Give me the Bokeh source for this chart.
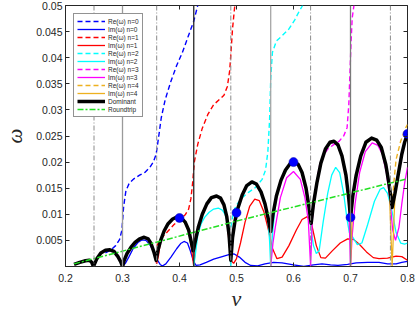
from bokeh.plotting import figure
from bokeh.models import (Range1d, FixedTicker, LinearAxis, Legend, LegendItem, Span)
from bokeh.embed import file_html
from bokeh.resources import INLINE

# ---------------- data ----------------
x_ticks = [0.2, 0.3, 0.4, 0.5, 0.6, 0.7, 0.8]
x_tick_labels = ["0.2", "0.3", "0.4", "0.5", "0.6", "0.7", "0.8"]
y_ticks = [0.005, 0.01, 0.015, 0.02, 0.025, 0.03, 0.035, 0.04, 0.045, 0.05]
y_tick_labels = ["0.005", "0.01", "0.015", "0.02", "0.025", "0.03", "0.035",
                 "0.04", "0.045", "0.05"]

# Dominant (thick black)
v_dom = [0.215, 0.225, 0.235, 0.242, 0.246, 0.249,
         0.255, 0.262, 0.270, 0.278, 0.285, 0.292, 0.297, 0.300,
         0.303, 0.308, 0.315, 0.322, 0.330, 0.338, 0.345, 0.350, 0.355, 0.359,
         0.362, 0.367, 0.373, 0.380, 0.388, 0.396, 0.403, 0.410, 0.416, 0.420, 0.424,
         0.428, 0.433, 0.440, 0.448, 0.456, 0.465, 0.472, 0.478, 0.483, 0.487, 0.490,
         0.493, 0.497, 0.502, 0.510, 0.518, 0.527, 0.535, 0.543, 0.550, 0.555, 0.560,
         0.564, 0.570, 0.578, 0.586, 0.594, 0.601, 0.608, 0.615, 0.622, 0.627, 0.631,
         0.635, 0.641, 0.648, 0.656, 0.664, 0.671, 0.678, 0.685, 0.692, 0.697, 0.700,
         0.704, 0.710, 0.718, 0.727, 0.737, 0.746, 0.754, 0.762, 0.768, 0.773,
         0.778, 0.784, 0.790, 0.795, 0.800]
w_dom = [0.0004, 0.0008, 0.0011, 0.0012, 0.0008, 0.0000,
         0.0015, 0.0026, 0.0031, 0.0032, 0.0029, 0.0019, 0.0009, 0.0000,
         0.0012, 0.0025, 0.0037, 0.0046, 0.0053, 0.0056, 0.0053, 0.0044, 0.0028, 0.0012,
         0.0030, 0.0050, 0.0068, 0.0082, 0.0091, 0.0095, 0.0093, 0.0085, 0.0070, 0.0050, 0.0030,
         0.0050, 0.0075, 0.0100, 0.0120, 0.0132, 0.0135, 0.0131, 0.0118, 0.0095, 0.0060, 0.0012,
         0.0055, 0.0085, 0.0110, 0.0137, 0.0155, 0.0162, 0.0158, 0.0143, 0.0120, 0.0095, 0.0067,
         0.0100, 0.0135, 0.0165, 0.0185, 0.0197, 0.0200, 0.0196, 0.0180, 0.0150, 0.0115, 0.0083,
         0.0120, 0.0160, 0.0198, 0.0225, 0.0238, 0.0240, 0.0233, 0.0212, 0.0175, 0.0130, 0.0094,
         0.0135, 0.0175, 0.0212, 0.0238, 0.0246, 0.0242, 0.0228, 0.0195, 0.0155, 0.0113,
         0.0140, 0.0178, 0.0215, 0.0238, 0.0254]

# Re / Im of n = 0 (blue)
v_re0 = [0.270, 0.280, 0.288, 0.295, 0.299, 0.302, 0.306, 0.312, 0.320, 0.330, 0.340,
         0.348, 0.354, 0.359, 0.363, 0.368, 0.375, 0.385, 0.395, 0.405, 0.415, 0.425, 0.432]
w_re0 = [0.0026, 0.0032, 0.0040, 0.0052, 0.0070, 0.0115, 0.0145, 0.0160, 0.0168, 0.0175, 0.0181,
         0.0190, 0.0200, 0.0215, 0.0245, 0.0285, 0.0320, 0.0355, 0.0385, 0.0410, 0.0440, 0.0470, 0.0500]
v_im0 = [0.215, 0.225, 0.235, 0.242, 0.246, 0.249, 0.255, 0.262, 0.270, 0.278, 0.285, 0.292,
         0.297, 0.300, 0.305, 0.311, 0.319, 0.327, 0.334, 0.341, 0.348, 0.355, 0.361, 0.366,
         0.370, 0.376, 0.385, 0.395, 0.402, 0.408, 0.414, 0.419, 0.424, 0.429, 0.436, 0.447,
         0.460, 0.475, 0.488, 0.496, 0.505, 0.515, 0.525, 0.537, 0.550, 0.565, 0.580, 0.600,
         0.618, 0.635, 0.650, 0.665, 0.678, 0.695, 0.710, 0.730, 0.750, 0.765, 0.780, 0.790, 0.800]
w_im0 = [0.0004, 0.0008, 0.0011, 0.0012, 0.0008, 0.0000, 0.0015, 0.0026, 0.0031, 0.0032, 0.0029, 0.0019,
         0.0009, 0.0000, 0.0006, 0.0018, 0.0035, 0.0046, 0.0051, 0.0050, 0.0042, 0.0028, 0.0013, 0.0004,
         0.0001, 0.0005, 0.0018, 0.0034, 0.0044, 0.0048, 0.0045, 0.0030, 0.0012, 0.0002, 0.0003, 0.0008,
         0.0014, 0.0019, 0.0023, 0.0024, 0.0018, 0.0008, 0.0002, 0.0001, 0.0005, 0.0008, 0.0007, 0.0003,
         0.0000, 0.0003, 0.0005, 0.0003, 0.0002, 0.0004, 0.0007, 0.0008, 0.0008, 0.0005, 0.0005, 0.0008, 0.0010]

# Re / Im of n = 1 (red)
v_re1 = [0.360, 0.370, 0.380, 0.390, 0.400, 0.410, 0.416, 0.420, 0.423, 0.426, 0.432, 0.440,
         0.450, 0.460, 0.470, 0.478, 0.484, 0.488, 0.490, 0.493, 0.497]
w_re1 = [0.0040, 0.0056, 0.0068, 0.0080, 0.0090, 0.0099, 0.0110, 0.0130, 0.0160, 0.0200, 0.0234, 0.0265,
         0.0292, 0.0310, 0.0320, 0.0328, 0.0345, 0.0375, 0.0405, 0.0455, 0.0500]
v_im1 = [0.300, 0.303, 0.308, 0.315, 0.322, 0.330, 0.338, 0.345, 0.350, 0.355, 0.360, 0.363,
         0.367, 0.373, 0.380, 0.388, 0.396, 0.403, 0.410, 0.416, 0.421, 0.425, 0.428, 0.433,
         0.440, 0.448, 0.456, 0.465, 0.472, 0.478, 0.483, 0.487, 0.490, 0.495, 0.500, 0.507,
         0.515, 0.523, 0.532, 0.540, 0.548, 0.556, 0.563, 0.571, 0.580, 0.592, 0.605, 0.615,
         0.625, 0.632, 0.640, 0.648, 0.656, 0.668, 0.682, 0.695, 0.705, 0.715, 0.728, 0.740,
         0.750, 0.765, 0.780, 0.790, 0.800]
w_im1 = [0.0000, 0.0012, 0.0025, 0.0037, 0.0046, 0.0053, 0.0056, 0.0053, 0.0044, 0.0026, 0.0005, 0.0020,
         0.0050, 0.0068, 0.0082, 0.0091, 0.0095, 0.0093, 0.0085, 0.0068, 0.0035, 0.0000, 0.0040, 0.0075,
         0.0100, 0.0120, 0.0132, 0.0135, 0.0131, 0.0118, 0.0090, 0.0045, 0.0012, 0.0006, 0.0015, 0.0045,
         0.0085, 0.0115, 0.0129, 0.0126, 0.0105, 0.0070, 0.0035, 0.0015, 0.0018, 0.0040, 0.0070, 0.0090,
         0.0096, 0.0080, 0.0040, 0.0017, 0.0016, 0.0030, 0.0045, 0.0053, 0.0052, 0.0043, 0.0028, 0.0017,
         0.0015, 0.0016, 0.0020, 0.0019, 0.0012]

# Re / Im of n = 2 (cyan)
v_re2 = [0.490, 0.495, 0.500, 0.510, 0.521, 0.533, 0.545, 0.551, 0.555, 0.558, 0.560, 0.563,
         0.570, 0.580, 0.592, 0.602, 0.610, 0.616]
w_re2 = [0.0075, 0.0105, 0.0118, 0.0132, 0.0142, 0.0151, 0.0167, 0.0185, 0.0220, 0.0280, 0.0360, 0.0410,
         0.0432, 0.0442, 0.0455, 0.0472, 0.0489, 0.0500]
v_im2 = [0.425, 0.428, 0.432, 0.438, 0.444, 0.452, 0.460, 0.468, 0.475, 0.480, 0.484, 0.487, 0.490,
         0.493, 0.497, 0.502, 0.510, 0.518, 0.527, 0.535, 0.543, 0.550, 0.555, 0.558, 0.560,
         0.563, 0.566, 0.570, 0.578, 0.586, 0.594, 0.601, 0.608, 0.615, 0.622, 0.627, 0.631,
         0.635, 0.640, 0.645, 0.652, 0.660, 0.667, 0.674, 0.681, 0.688, 0.694, 0.698,
         0.703, 0.712, 0.720, 0.730, 0.742, 0.752, 0.758, 0.765, 0.773, 0.780, 0.788, 0.795, 0.800]
w_im2 = [0.0000, 0.0025, 0.0060, 0.0082, 0.0094, 0.0104, 0.0110, 0.0112, 0.0108, 0.0100, 0.0085, 0.0055, 0.0000,
         0.0050, 0.0083, 0.0108, 0.0135, 0.0153, 0.0160, 0.0156, 0.0141, 0.0118, 0.0090, 0.0050, 0.0000,
         0.0060, 0.0095, 0.0133, 0.0163, 0.0183, 0.0195, 0.0198, 0.0194, 0.0178, 0.0148, 0.0110, 0.0070,
         0.0040, 0.0025, 0.0030, 0.0085, 0.0140, 0.0175, 0.0190, 0.0180, 0.0140, 0.0090, 0.0065,
         0.0058, 0.0042, 0.0045, 0.0080, 0.0125, 0.0148, 0.0151, 0.0140, 0.0105, 0.0065, 0.0045, 0.0043, 0.0045]

# Re / Im of n = 3 (magenta)
v_re3 = [0.631, 0.634, 0.638, 0.642, 0.646, 0.652, 0.660, 0.670, 0.680, 0.688, 0.694, 0.697,
         0.699, 0.701, 0.703, 0.706]
w_re3 = [0.0085, 0.0115, 0.0140, 0.0170, 0.0195, 0.0212, 0.0225, 0.0233, 0.0240, 0.0250, 0.0266, 0.0310,
         0.0370, 0.0430, 0.0476, 0.0500]
v_im3 = [0.560, 0.564, 0.568, 0.577, 0.588, 0.600, 0.612, 0.620, 0.626, 0.630,
         0.633, 0.637, 0.641, 0.648, 0.656, 0.664, 0.671, 0.678, 0.685, 0.692, 0.697, 0.700,
         0.703, 0.708, 0.716, 0.726, 0.738, 0.748, 0.756, 0.763, 0.769, 0.774, 0.779, 0.785,
         0.790, 0.795, 0.800]
w_im3 = [0.0000, 0.0045, 0.0075, 0.0132, 0.0170, 0.0182, 0.0167, 0.0132, 0.0088, 0.0000,
         0.0090, 0.0128, 0.0158, 0.0196, 0.0223, 0.0236, 0.0238, 0.0231, 0.0210, 0.0172, 0.0120, 0.0000,
         0.0060, 0.0120, 0.0180, 0.0220, 0.0237, 0.0232, 0.0215, 0.0180, 0.0130, 0.0070, 0.0050, 0.0075,
         0.0120, 0.0160, 0.0190]

# Re / Im of n = 4 (orange)
v_re4 = [0.773, 0.776, 0.780, 0.788, 0.797, 0.800]
w_re4 = [0.0115, 0.0160, 0.0205, 0.0240, 0.0266, 0.0272]
v_im4 = [0.700, 0.704, 0.710, 0.718, 0.727, 0.737, 0.746, 0.754, 0.762, 0.768, 0.773,
         0.778, 0.784, 0.790, 0.795, 0.800]
w_im4 = [0.0000, 0.0130, 0.0172, 0.0210, 0.0236, 0.0244, 0.0240, 0.0226, 0.0193, 0.0150, 0.0000,
         0.0136, 0.0176, 0.0213, 0.0236, 0.0252]

# Roundtrip (green dash-dot)
v_rt = [0.215, 0.500, 0.800]
w_rt = [0.0005, 0.0087, 0.0168]

# marked points
v_dot = [0.4, 0.5, 0.6, 0.7, 0.8]
w_dot = [0.0093, 0.0103, 0.0200, 0.0094, 0.0254]

# vertical reference lines
v_solid = [0.30, 0.425, 0.56, 0.70]
v_solid_colors = ["#9a9a9a", "#262626", "#a6a6a6", "#7a7a7a"]
v_dashdot = [0.25, 0.36, 0.49, 0.63, 0.77]

legend_labels = ["Re(\u03c9) n=0", "Im(\u03c9) n=0", "Re(\u03c9) n=1", "Im(\u03c9) n=1",
                 "Re(\u03c9) n=2", "Im(\u03c9) n=2", "Re(\u03c9) n=3", "Im(\u03c9) n=3",
                 "Re(\u03c9) n=4", "Im(\u03c9) n=4", "Dominant", "Roundtrip"]

# ---------------- figure ----------------
INK = "#262626"
p = figure(width=415, height=315, x_range=Range1d(0.2, 0.8), y_range=Range1d(0, 0.05),
           output_backend="svg", toolbar_location=None,
           min_border_left=64, min_border_right=8, min_border_top=5, min_border_bottom=49)
p.background_fill_color = "white"
p.border_fill_color = "white"
p.outline_line_color = INK
p.outline_line_width = 1
p.xgrid.visible = False
p.ygrid.visible = False

for ax, ticks, labels in ((p.xaxis[0], x_ticks, x_tick_labels),
                          (p.yaxis[0], y_ticks, y_tick_labels)):
    ax.ticker = FixedTicker(ticks=ticks)
    ax.major_label_overrides = {t: l for t, l in zip(ticks, labels)}
    ax.axis_line_color = INK
    ax.major_tick_line_color = INK
    ax.major_tick_in = 4
    ax.major_tick_out = 0
    ax.minor_tick_line_color = None
    ax.major_label_text_font = "Liberation Sans"
    ax.major_label_text_font_size = "10.5px"
    ax.major_label_text_color = INK
    ax.axis_label_text_font = "Liberation Serif"
    ax.axis_label_text_font_style = "italic"
    ax.axis_label_text_color = INK
p.xaxis[0].major_label_standoff = 7
p.yaxis[0].major_label_standoff = 3
p.xaxis[0].axis_label = "v"
p.xaxis[0].axis_label_text_font_size = "22px"
p.xaxis[0].axis_label_standoff = 1
p.yaxis[0].axis_label = "\u03c9"
p.yaxis[0].axis_label_text_font_size = "21px"
p.yaxis[0].axis_label_standoff = 6

for place, ticks in (("above", x_ticks), ("right", y_ticks)):
    ax = LinearAxis(ticker=FixedTicker(ticks=ticks))
    ax.major_label_overrides = {t: "" for t in ticks}
    ax.major_label_text_font_size = "0px"
    ax.major_label_standoff = 0
    ax.axis_line_color = None
    ax.major_tick_line_color = INK
    ax.major_tick_in = 4
    ax.major_tick_out = 0
    ax.minor_tick_line_color = None
    p.add_layout(ax, place)

# vertical lines
for xv, col in zip(v_solid, v_solid_colors):
    p.add_layout(Span(location=xv, dimension="height", line_color=col, line_width=1.3))
for xv in v_dashdot:
    p.add_layout(Span(location=xv, dimension="height", line_color="#8a8a8a",
                      line_width=1, line_dash="5 2 1 2"))

BLUE, RED, CYAN, MAG, ORA = "#0000ff", "#ff0000", "#00ffff", "#ff00ff", "#edb120"
DASH = "5 3"
r = {}
r["re0"] = p.line(v_re0, w_re0, line_color=BLUE, line_width=1.4, line_dash=DASH)
r["re1"] = p.line(v_re1, w_re1, line_color=RED, line_width=1.4, line_dash=DASH)
r["re2"] = p.line(v_re2, w_re2, line_color=CYAN, line_width=1.4, line_dash=DASH)
r["re3"] = p.line(v_re3, w_re3, line_color=MAG, line_width=1.4, line_dash=DASH)
r["re4"] = p.line(v_re4, w_re4, line_color=ORA, line_width=1.4, line_dash=DASH)
r["im0"] = p.line(v_im0, w_im0, line_color=BLUE, line_width=1.3)
r["im1"] = p.line(v_im1, w_im1, line_color=RED, line_width=1.3)
r["im2"] = p.line(v_im2, w_im2, line_color=CYAN, line_width=1.3)
r["im3"] = p.line(v_im3, w_im3, line_color=MAG, line_width=1.3)
r["im4"] = p.line(v_im4, w_im4, line_color=ORA, line_width=1.3)
r["dom"] = p.line(v_dom, w_dom, line_color="black", line_width=3.5, line_join="round")
r["rt"] = p.line(v_rt, w_rt, line_color="#22e022", line_width=1.5, line_dash="6 2 2 2")
p.scatter(v_dot, w_dot, size=9, fill_color=BLUE, line_color="#0000aa", line_width=0.5)

keys = ["re0", "im0", "re1", "im1", "re2", "im2", "re3", "im3", "re4", "im4", "dom", "rt"]
legend = Legend(items=[LegendItem(label=lab, renderers=[r[k]]) for lab, k in zip(legend_labels, keys)],
                location="top_left", margin=8, padding=3, spacing=0,
                glyph_width=28, glyph_height=8, label_height=8, label_standoff=3,
                label_text_font="Liberation Sans", label_text_font_size="6.5px",
                label_text_color=INK, border_line_color=INK, border_line_width=1,
                background_fill_color="white", background_fill_alpha=1)
p.add_layout(legend, "center")

open("out.html", "w").write(file_html(p, INLINE))
